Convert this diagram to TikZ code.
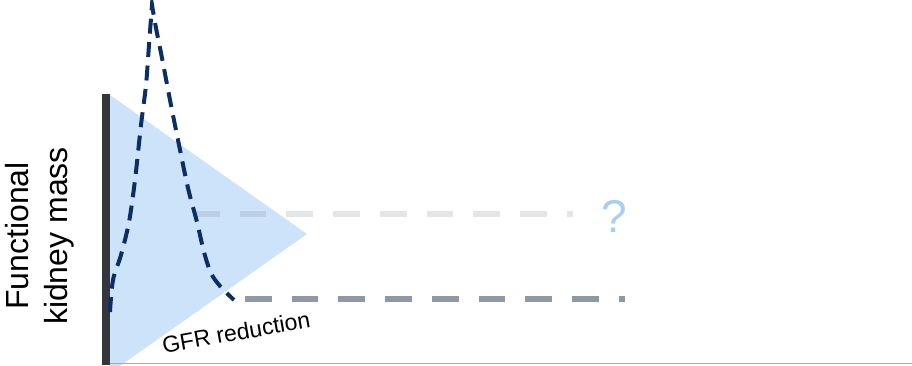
\documentclass[tikz,border=0pt]{standalone}
\usepackage{fontspec}
\setmainfont{Liberation Sans}
\begin{document}
\begin{tikzpicture}[x=1pt,y=-1pt,
  levelline/.style={draw=levelgray,line width=6pt,dash pattern=on 26.7pt off 20pt},
  curvestyle/.style={draw=navy,line width=4pt,dash pattern=on 15pt off 8.5pt}]
\definecolor{triblue}{HTML}{CDE3FA}
\definecolor{axisdark}{HTML}{33363C}
\definecolor{levelgray}{HTML}{9097A5}
\definecolor{navy}{HTML}{0B2F63}
\definecolor{qblue}{HTML}{A9CDF7}
\definecolor{basegray}{HTML}{A8A8A8}
\useasboundingbox (0,0) rectangle (912,365);
\begin{scope}
\clip (0,0) rectangle (912,365);
\fill[triblue] (110,95) -- (307,234) -- (110,373) -- cycle;
\end{scope}
% level lines
\coordinate (l1s) at (193,214);
\coordinate (l1e) at (573,214);
\coordinate (l2s) at (245,299);
\coordinate (l2e) at (625,299);
\draw[levelline,opacity=0.25] (l1s) -- (l1e);
\draw[levelline] (l2s) -- (l2e);
% axes
\coordinate (xa) at (110,363.5);
\coordinate (xb) at (912,363.5);
\draw[draw=basegray,line width=1.5pt] (xa) -- (xb);
\fill[axisdark] (102,94) rectangle (110,365);
% curve
\draw[curvestyle] plot[smooth,tension=0.55] coordinates {(110,312) (113,280) (121,255) (129,222) (135,180) (141,125) (146,85) (149,45) (152,5)}
  -- plot[smooth,tension=0.55] coordinates {(152,5) (156,28) (162,58) (170,100) (178,140) (188,188) (197,222) (204,252) (211,273) (220,286) (234,300)};
% texts
\node[rotate=90,align=center,inner sep=0pt,font=\fontsize{32}{39}\selectfont] (ylab) at (39.5,236) {Functional\\kidney mass};
\node[rotate=10,anchor=base,inner sep=0pt,font=\fontsize{23}{26}\selectfont] (gfr) at (237.5,340.5) {GFR reduction};
\node[inner sep=0pt,text=qblue,font=\fontsize{46}{50}\selectfont] (q) at (614,216) {?};
\end{tikzpicture}
\end{document}
